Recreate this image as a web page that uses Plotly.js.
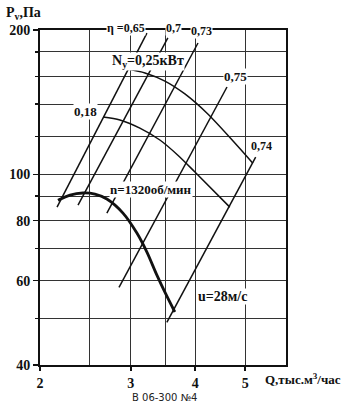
<!DOCTYPE html>
<html>
<head>
<meta charset="utf-8">
<script src="https://cdn.plot.ly/plotly-3.0.1.min.js"></script>
<style>html,body{margin:0;padding:0;background:#fff;}#chart{width:360px;height:410px;}</style>
</head>
<body>
<div id="chart"></div>
<script>
// Pressure curve n=1320 rpm (Q thousand m3/h, Pv Pa)
const pressureQ = [2.167, 2.287, 2.423, 2.556, 2.696, 2.897, 3.083, 3.224, 3.371, 3.509, 3.652];
const pressureP = [88.3, 90.5, 91.4, 90.9, 88.8, 83.0, 75.4, 68.8, 61.6, 56.2, 51.6];

// Efficiency lines (endpoints)
const eta065Q = [2.158, 3.224], eta065P = [85.4, 197.1];
const eta070Q = [2.370, 3.540], eta070P = [86.2, 192.5];
const eta073Q = [2.696, 4.050], eta073P = [83.0, 187.9];
const eta075Q = [2.846, 4.610], eta075P = [58.1, 152.1];
const eta074Q = [3.524, 5.240], eta074P = [49.1, 108.6];

// Power curves
const n025Q = [2.962, 3.196, 3.494, 3.820, 4.232, 4.818, 5.174];
const n025P = [165.8, 162.7, 156.5, 147.1, 133.6, 115.0, 105.5];
const n018Q = [2.650, 2.858, 3.124, 3.416, 3.702, 3.995, 4.668];
const n018P = [131.7, 129.8, 124.8, 117.9, 109.6, 101.1, 85.4];

// Ticks
const xTicks = [2, 3, 4, 5];
const xMinor = [2.5, 3.5];
const yTicks = [40, 60, 80, 100, 200];
const yMinor = [50, 70, 90, 120, 140, 160, 180];

function line(q, p, w, shape) {
  return {x: q, y: p, type: 'scatter', mode: 'lines', hoverinfo: 'skip',
          line: {color: '#111', width: w, shape: shape || 'linear', smoothing: 0.8}};
}
const traces = [
  line(eta065Q, eta065P, 1.5),
  line(eta070Q, eta070P, 1.5),
  line(eta073Q, eta073P, 1.5),
  line(eta075Q, eta075P, 1.5),
  line(eta074Q, eta074P, 1.5),
  line(n025Q, n025P, 1.5, 'spline'),
  line(n018Q, n018P, 1.5, 'spline'),
  line(pressureQ, pressureP, 2.8, 'spline')
];

const serif = 'Liberation Serif, DejaVu Serif, serif';
function lbl(text, x, y, size, extra) {
  return Object.assign({text: '<b>' + text + '</b>', xref: 'paper', yref: 'paper', x: x, y: y,
    showarrow: false, font: {family: serif, size: size, color: '#111'},
    bgcolor: '#fff', borderpad: 0, xanchor: 'center', yanchor: 'middle'}, extra || {});
}

const annotations = [
  lbl('η =0,65', 0.3496, 1.006, 12),
  lbl('0,7', 0.5447, 1.006, 12),
  lbl('0,73', 0.6545, 0.997, 12),
  lbl('N<sub>y</sub>=0,25кВт', 0.437, 0.905, 14),
  lbl('0,18', 0.183, 0.758, 13),
  lbl('0,75', 0.7927, 0.860, 13),
  lbl('0,74', 0.902, 0.654, 12),
  lbl('n=1320об/мин', 0.451, 0.525, 13),
  lbl('u=28м/с', 0.740, 0.203, 14),
  lbl('P<sub>v</sub>,Па', -0.142, 1.05, 14, {xanchor: 'left', bgcolor: 'rgba(0,0,0,0)'}),
  lbl('Q,тыс.м<sup>3</sup>/час', 0.912, -0.042, 13, {xanchor: 'left', bgcolor: 'rgba(0,0,0,0)'}),
  {text: 'В 06-300 №4', xref: 'paper', yref: 'paper', x: 0.508, y: -0.096, showarrow: false,
   font: {family: 'DejaVu Sans, sans-serif', size: 10, color: '#222'}, xanchor: 'center', yanchor: 'middle'}
];

const layout = {
  width: 360, height: 410,
  margin: {l: 40, r: 74, t: 30, b: 45},
  paper_bgcolor: '#fff', plot_bgcolor: '#fff',
  showlegend: false,
  xaxis: {
    type: 'log', range: [Math.log10(2), Math.log10(6)],
    tickmode: 'array', tickvals: xTicks, ticktext: xTicks.map(v => '<b>' + v + '</b>'),
    ticks: 'outside', ticklen: 4, tickwidth: 1.5, tickcolor: '#111',
    showgrid: true, gridcolor: '#333', gridwidth: 1,
    minor: {tickmode: 'array', tickvals: xMinor, showgrid: true, gridcolor: '#333', gridwidth: 1, ticks: ''},
    showline: true, linecolor: '#111', linewidth: 2, mirror: true,
    zeroline: false,
    tickfont: {family: serif, size: 14, color: '#111'}
  },
  yaxis: {
    type: 'log', range: [Math.log10(40), Math.log10(200)],
    tickmode: 'array', tickvals: yTicks, ticktext: yTicks.map(v => '<b>' + v + '</b>'),
    ticks: 'outside', ticklen: 5, tickwidth: 1.5, tickcolor: '#111',
    showgrid: true, gridcolor: '#333', gridwidth: 1,
    minor: {tickmode: 'array', tickvals: yMinor, showgrid: true, gridcolor: '#333', gridwidth: 1, ticks: 'outside', ticklen: 3, tickcolor: '#111'},
    showline: true, linecolor: '#111', linewidth: 2, mirror: true,
    zeroline: false,
    tickfont: {family: serif, size: 14, color: '#111'}
  },
  annotations: annotations
};

Plotly.newPlot('chart', traces, layout, {staticPlot: true, displayModeBar: false});
</script>
</body>
</html>
